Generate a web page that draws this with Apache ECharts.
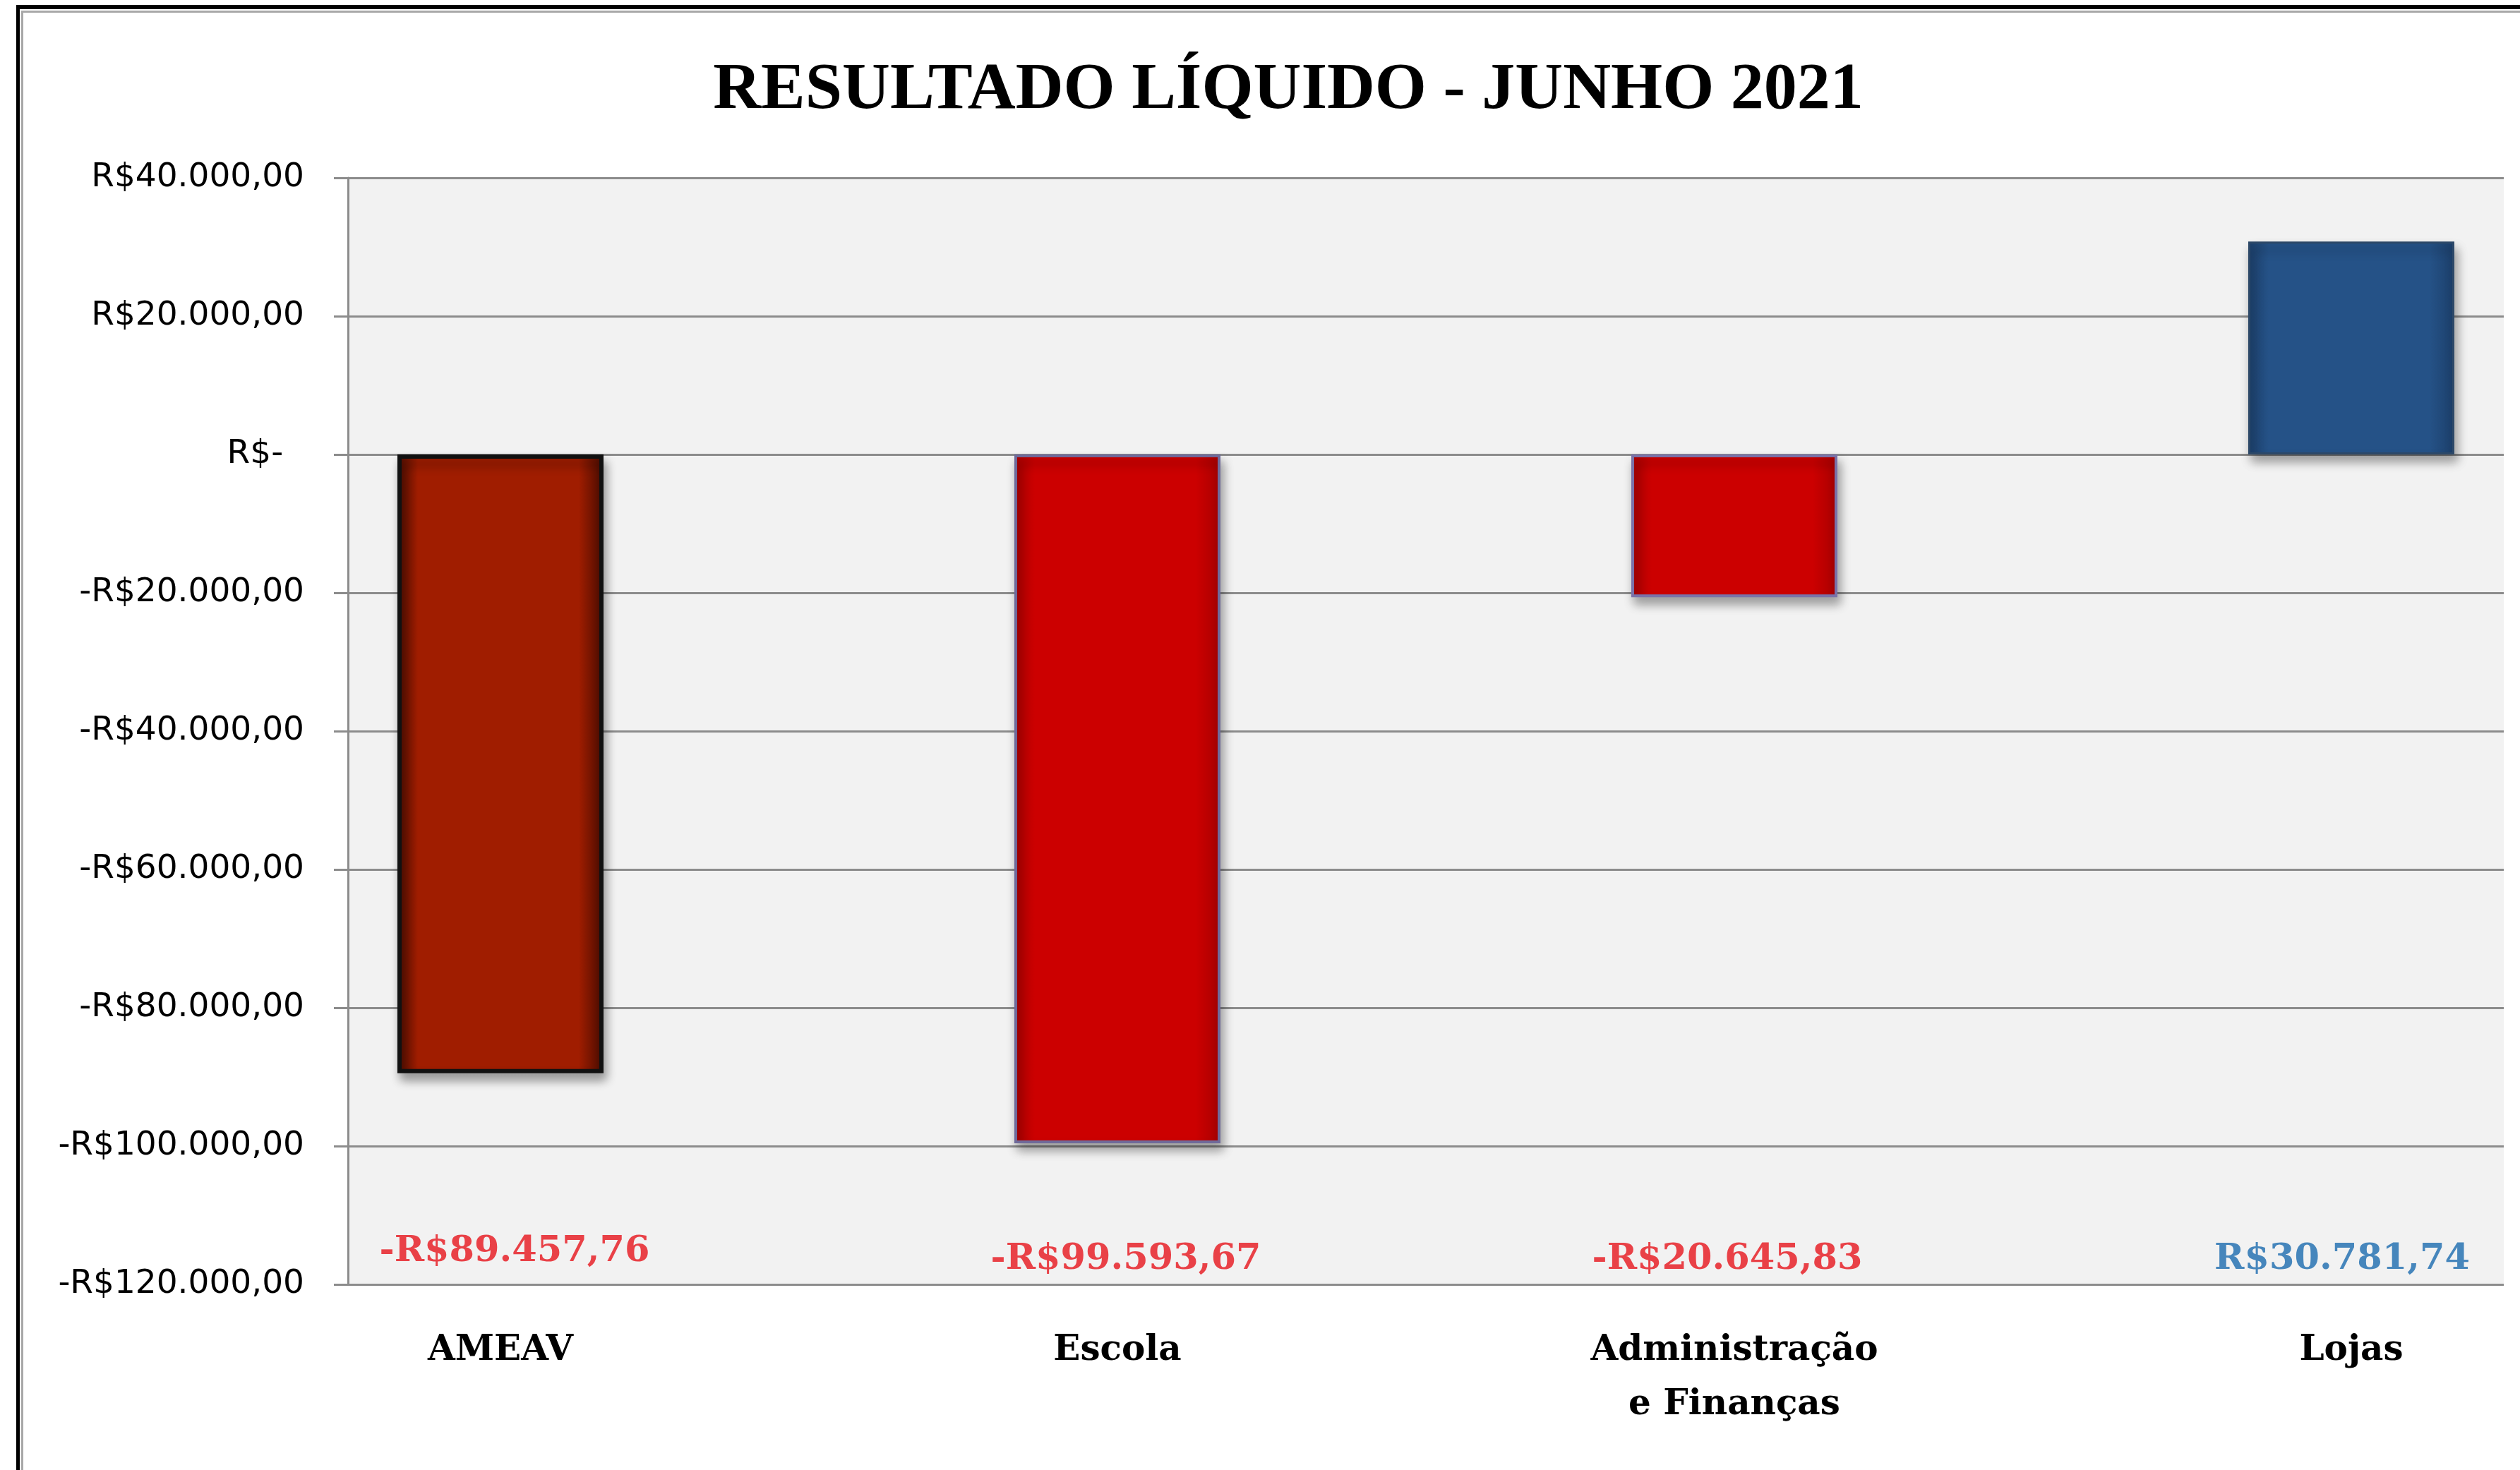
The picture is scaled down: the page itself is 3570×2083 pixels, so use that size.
<!DOCTYPE html>
<html>
<head>
<meta charset="utf-8">
<script src="https://cdn.jsdelivr.net/npm/echarts@6/dist/echarts.min.js"></script>
<style>
html,body{margin:0;padding:0;background:#fff;}
#chart{width:3570px;height:2083px;}
</style>
</head>
<body>
<div id="chart"></div>
<script>
// ---- data ----
const categories = ['AMEAV', 'Escola', 'Administração\ne Finanças', 'Lojas'];
const values = [-89457.76, -99593.67, -20645.83, 30781.74];
const yTicks = { min: -120000, max: 40000, interval: 20000 };
const titleText = 'RESULTADO LÍQUIDO - JUNHO 2021';

// ---- layout / style ----
const LABEL_Y = -116400;
const labelOffsets = [[20, -11], [12, 0], [-10, 0], [-13, 0]];
const RED = '#e6141c', BLUE = '#1a6aae';

function grad(edge, mid) {
  return new echarts.graphic.LinearGradient(0, 0, 1, 0, [
    { offset: 0, color: edge }, { offset: 0.1, color: mid },
    { offset: 0.88, color: mid }, { offset: 1, color: edge }
  ]);
}
const barStyles = [
  { color: grad('#4a0c00', '#a01d00'), borderColor: '#111', borderWidth: 6 },
  { color: grad('#a80000', '#cc0000'), borderColor: '#6f6a9a', borderWidth: 4 },
  { color: grad('#a80000', '#cc0000'), borderColor: '#7a72a8', borderWidth: 4 },
  { color: grad('#1c3f6a', '#255287'), borderColor: '#2c4868', borderWidth: 3 }
];

function brl(v) {
  const neg = v < 0;
  let parts = Math.abs(v).toFixed(2).split('.');
  let ip = parts[0].replace(/\B(?=(\d{3})+(?!\d))/g, '.');
  return (neg ? '-' : '') + 'R$' + ip + ',' + parts[1];
}

const chart = echarts.init(document.getElementById('chart'));
const gridTop = 252, gridBottom = 2083 - 1820;

chart.setOption({
  backgroundColor: '#ffffff',
  animation: false,
  title: {
    text: titleText, left: 1820, top: 77, textAlign: 'center',
    textStyle: { fontFamily: 'Liberation Serif', fontWeight: 'bold', fontSize: 94, color: '#000', lineHeight: 94 }
  },
  graphic: [
    { type: 'rect', shape: { x: 23, y: 7, width: 3547, height: 6 }, style: { fill: '#000' }, z: 100 },
    { type: 'rect', shape: { x: 23, y: 7, width: 5, height: 2076 }, style: { fill: '#000' }, z: 100 },
    { type: 'rect', shape: { x: 30, y: 15, width: 3540, height: 3 }, style: { fill: '#a8a8a8' }, z: 100 },
    { type: 'rect', shape: { x: 30, y: 15, width: 3, height: 2068 }, style: { fill: '#a8a8a8' }, z: 100 }
  ],
  grid: [
    { left: 493, right: 23, top: gridTop, bottom: gridBottom, show: true, backgroundColor: '#f2f2f2', borderWidth: 0 },
    { left: 709, right: 239, top: gridTop, bottom: gridBottom }
  ],
  xAxis: [
    { type: 'category', gridIndex: 0, data: categories, show: false },
    {
      type: 'category', gridIndex: 1, data: categories, boundaryGap: false,
      axisLine: { show: false }, axisTick: { show: false },
      axisLabel: {
        interval: 0, margin: 56, color: '#000',
        fontFamily: 'DejaVu Serif', fontWeight: 'bold', fontSize: 50, lineHeight: 77, align: 'center'
      }
    }
  ],
  yAxis: [
    {
      type: 'value', gridIndex: 0, min: yTicks.min, max: yTicks.max, interval: yTicks.interval,
      axisLine: { show: true, lineStyle: { color: '#8c8c8c', width: 3 } },
      axisTick: { show: true, length: 20, lineStyle: { color: '#8c8c8c', width: 3 } },
      splitLine: { show: true, lineStyle: { color: '#8c8c8c', width: 3 } },
      axisLabel: {
        margin: 62, color: '#000', fontFamily: 'DejaVu Sans', fontSize: 47,
        formatter: v => v === 0 ? 'R$-  ' : brl(v)
      }
    },
    { type: 'value', gridIndex: 1, min: yTicks.min, max: yTicks.max, interval: yTicks.interval, show: false, splitLine: { show: false } }
  ],
  series: [
    {
      type: 'bar', xAxisIndex: 1, yAxisIndex: 1, barWidth: 292, clip: false,
      data: values.map((v, i) => ({
        value: v,
        itemStyle: Object.assign({
          shadowColor: 'rgba(0,0,0,0.35)', shadowBlur: 14, shadowOffsetX: 4, shadowOffsetY: 10
        }, barStyles[i])
      })),
      z: 3
    },
    {
      type: 'scatter', xAxisIndex: 1, yAxisIndex: 1, symbolSize: 0, clip: false, silent: true,
      data: values.map((v, i) => ({
        value: [i, LABEL_Y],
        label: { offset: labelOffsets[i], color: v < 0 ? RED : BLUE }
      })),
      label: {
        show: true, position: 'inside',
        fontFamily: 'DejaVu Serif', fontWeight: 'bold', fontSize: 51,
        formatter: p => brl(values[p.dataIndex])
      },
      z: 5
    }
  ]
});
</script>
</body>
</html>
